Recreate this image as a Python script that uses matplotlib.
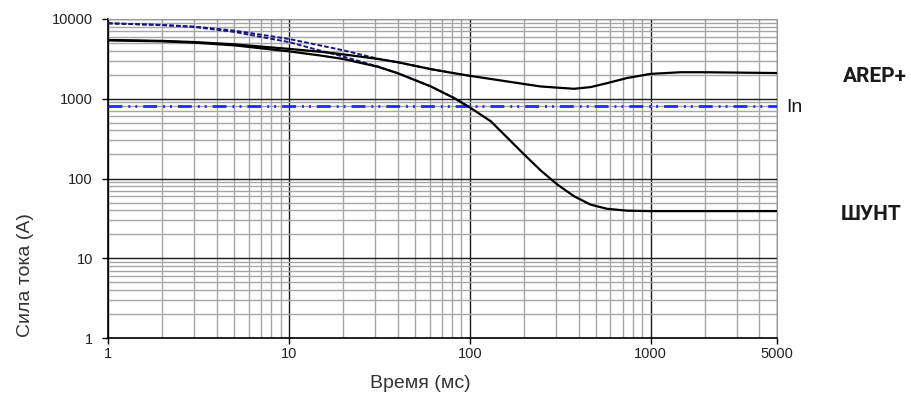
import matplotlib
matplotlib.use("Agg")
import matplotlib.pyplot as plt
from matplotlib.ticker import FixedLocator, LogLocator, NullFormatter

# --- data (time in ms, current in A) ---
t_arep = [1, 2, 3, 5, 10, 15, 20, 31, 40, 61, 82, 100, 162, 247, 377, 466, 575, 742, 1000, 1466, 2000, 5000]
i_arep = [5460, 5310, 5140, 4810, 4220, 3880, 3600, 3160, 2870, 2350, 2090, 1940, 1645, 1425, 1333, 1400, 1570, 1820, 2050, 2150, 2150, 2100]

t_shunt = [1, 2, 3, 5, 10, 15, 20, 31, 40, 61, 82, 100, 131, 162, 200, 247, 305, 377, 466, 575, 742, 1000, 5000]
i_shunt = [5400, 5250, 5050, 4670, 3930, 3480, 3150, 2520, 2090, 1425, 1020, 780, 520, 322, 200, 126, 84, 60, 47, 41.7, 39.5, 39, 39]

t_dash_a = [1, 2, 3, 5, 10, 15, 20, 31, 40, 61, 82, 100]
i_dash_a = [8840, 8410, 8020, 7150, 5620, 4650, 4050, 3180, 2870, 2350, 2090, 1940]

t_dash_s = [1, 2, 3, 5, 10, 15, 20, 31, 40, 61, 82, 100]
i_dash_s = [8840, 8380, 7950, 6880, 5140, 4000, 3380, 2540, 2090, 1425, 1020, 780]

t_in = [1, 5000]
i_in = [800, 800]

x_ticks = [1, 10, 100, 1000, 5000]
y_ticks = [1, 10, 100, 1000, 10000]

fig = plt.figure(figsize=(9.12, 3.97), dpi=100)
ax = fig.add_axes([108 / 912, 1 - 338 / 397, (777 - 108) / 912, (338 - 19) / 397])
ax.set_xscale("log")
ax.set_yscale("log")
ax.set_xlim(1, 5000)
ax.set_ylim(1, 10000)

# grid: grey minor, dark major
ax.xaxis.set_minor_locator(LogLocator(base=10, subs=range(2, 10)))
ax.yaxis.set_minor_locator(LogLocator(base=10, subs=range(2, 10)))
ax.xaxis.set_minor_formatter(NullFormatter())
ax.yaxis.set_minor_formatter(NullFormatter())
ax.grid(which="minor", color="#a6a6a6", lw=1.0)
ax.grid(which="major", color="#1a1a1a", lw=1.0)
ax.set_axisbelow(True)

ax.xaxis.set_major_locator(FixedLocator(x_ticks))
ax.yaxis.set_major_locator(FixedLocator(y_ticks))
ax.set_xticklabels([str(v) for v in x_ticks])
ax.set_yticklabels([str(v) for v in y_ticks])
ax.tick_params(which="major", length=4.3, width=1, color="black", labelsize=10.5,
               labelcolor="#222222")
ax.tick_params(axis="y", pad=6.5)
ax.tick_params(axis="x", pad=2.5)
ax.tick_params(which="minor", length=0)
for lbl in ax.get_xticklabels() + ax.get_yticklabels():
    lbl.set_family("Liberation Sans")

for side in ["top", "right"]:
    ax.spines[side].set_color("#999999")
for side in ["left", "bottom"]:
    ax.spines[side].set_color("black")
    ax.spines[side].set_linewidth(1.2)

# curves
ax.plot(t_in, i_in, color="#1f2bff", lw=2.0, dashes=(5, 2.15, 0.7, 1.8, 0.7, 2.15), zorder=3)
ax.plot(t_dash_a, i_dash_a, color="#17177f", lw=1.4, dashes=(2.4, 1.1), zorder=4)
ax.plot(t_dash_s, i_dash_s, color="#17177f", lw=1.4, dashes=(2.4, 1.1), zorder=4)
ax.plot(t_arep, i_arep, color="black", lw=1.6, zorder=5)
ax.plot(t_shunt, i_shunt, color="black", lw=1.6, zorder=5)

ax.set_xlabel("Время (мс)", fontsize=14, color="#333333", family="Liberation Sans")
ax.set_ylabel("Сила тока (А)", fontsize=14, color="#333333", family="Liberation Sans")
ax.xaxis.set_label_coords((420 - 108) / 669, (338 - 375) / 319)
ax.yaxis.set_label_coords((34 - 108) / 669, (338 - 275) / 319)

fig.text(875 / 912, 1 - 76 / 397, "AREP+", fontsize=15, fontweight="bold", family="Roboto",
         color="#1a1a1a", ha="center", va="center")
fig.text(871 / 912, 1 - 215 / 397, "ШУНТ", fontsize=15, fontweight="bold", family="Roboto",
         color="#1a1a1a", ha="center", va="center")
fig.text(786 / 912, 1 - 107.5 / 397, "In", fontsize=14, family="Liberation Sans",
         color="#1a1a1a", ha="left", va="center")

fig.savefig("out.png", dpi=100)
